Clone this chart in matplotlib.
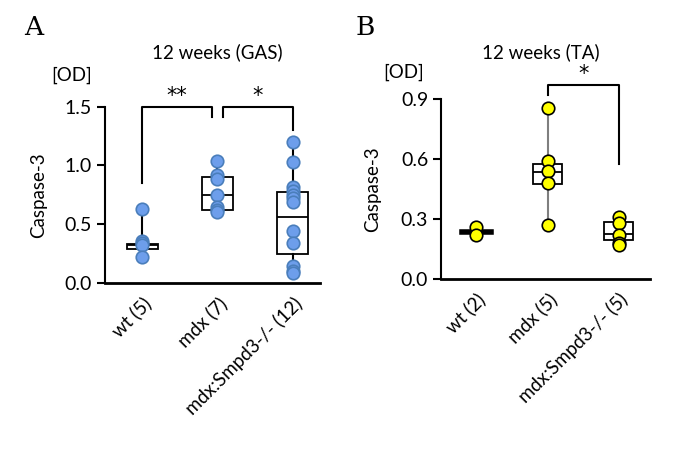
import matplotlib.pyplot as plt

plt.rcParams["font.family"] = ["Lato", "DejaVu Sans"]

# panel A: 12 weeks (GAS)
cats_a = ["wt (5)", "mdx (7)", "mdx:Smpd3-/- (12)"]
pts_a = [
    [0.63, 0.36, 0.34, 0.32, 0.22],
    [1.04, 0.92, 0.88, 0.75, 0.65, 0.62, 0.60],
    [1.20, 1.03, 0.82, 0.785, 0.75, 0.72, 0.69, 0.445, 0.34, 0.14, 0.10, 0.08],
]
q1_a = [0.29, 0.62, 0.245]
med_a = [0.32, 0.75, 0.56]
q3_a = [0.335, 0.90, 0.77]
lo_a = [0.22, 0.60, 0.08]
hi_a = [0.63, 1.04, 1.20]

# panel B: 12 weeks (TA)
cats_b = ["wt (2)", "mdx (5)", "mdx:Smpd3-/- (5)"]
pts_b = [
    [0.26, 0.22],
    [0.857, 0.59, 0.54, 0.478, 0.27],
    [0.31, 0.28, 0.22, 0.18, 0.17],
]
q1_b = [0.23, 0.473, 0.195]
med_b = [0.235, 0.537, 0.225]
q3_b = [0.24, 0.576, 0.283]
lo_b = [0.22, 0.27, 0.17]
hi_b = [0.26, 0.857, 0.31]

fig = plt.figure(figsize=(6.78, 4.54), dpi=100)
axA = fig.add_axes([0.155, 0.377, 0.317, 0.388])
axB = fig.add_axes([0.651, 0.3855, 0.307, 0.3965])


def draw_panel(ax, cats, pts, q1, med, q3, lo, hi, face, edge, whisk_col):
    stats = []
    for i in range(len(cats)):
        stats.append(dict(q1=q1[i], med=med[i], q3=q3[i], whislo=lo[i], whishi=hi[i]))
    ax.bxp(stats, positions=range(len(cats)), widths=0.41, showfliers=False,
           showcaps=False, patch_artist=True,
           boxprops=dict(facecolor="white", edgecolor="black", linewidth=1.3),
           medianprops=dict(color="black", linewidth=1.3),
           whiskerprops=dict(color=whisk_col, linewidth=1.5), zorder=2)
    for i, vals in enumerate(pts):
        ax.plot([i] * len(vals), vals, "o", ms=9, mfc=face, mec=edge, mew=1.2,
                zorder=3, clip_on=False)
    for s in ["top", "right"]:
        ax.spines[s].set_visible(False)
    ax.spines["left"].set_linewidth(1.5)
    ax.spines["bottom"].set_linewidth(2)
    ax.set_xticks(range(len(cats)))
    ax.set_xticklabels(cats, rotation=45, ha="right", rotation_mode="anchor", fontsize=13.5)
    ax.tick_params(axis="x", length=0, pad=8)
    ax.tick_params(axis="y", labelsize=14, width=1.5, length=6, direction="out")
    ax.set_ylabel("Caspase-3", fontsize=13.5)


draw_panel(axA, cats_a, pts_a, q1_a, med_a, q3_a, lo_a, hi_a,
           "#6d9eeb", "#4a7ebb", "black")
axA.set_ylim(0, 1.5)
axA.set_xlim(-0.49, 2.36)
axA.set_yticks([0, 0.5, 1.0, 1.5])
axA.set_yticklabels(["0.0", "0.5", "1.0", "1.5"])
axA.yaxis.set_label_coords(-0.27, 0.5)

draw_panel(axB, cats_b, pts_b, q1_b, med_b, q3_b, lo_b, hi_b,
           "#ffff00", "black", "#7f7f7f")
# wt group in TA drawn as a thick bar
axB.plot([-0.2, 0.2], [med_b[0], med_b[0]], color="black", lw=4, zorder=2)
axB.set_ylim(0, 0.9)
axB.set_xlim(-0.49, 2.43)
axB.set_yticks([0, 0.3, 0.6, 0.9])
axB.set_yticklabels(["0.0", "0.3", "0.6", "0.9"])
axB.yaxis.set_label_coords(-0.29, 0.5)


def bracket(ax, x1, x2, y1, y2, top, label):
    ax.plot([x1, x1, x2, x2], [y1, top, top, y2], color="black", lw=1.5, clip_on=False)
    ax.text((x1 + x2) / 2, top + 0.005 * (ax.get_ylim()[1]), label, ha="center",
            va="bottom", fontsize=15, family="DejaVu Sans")


bracket(axA, 0, 0.93, 0.85, 1.41, 1.5, "**")
bracket(axA, 1.07, 2.0, 1.41, 1.30, 1.5, "*")
bracket(axB, 1, 2, 0.92, 0.576, 0.97, "*")

fig.text(0.32, 0.885, "12 weeks (GAS)", ha="center", va="center", fontsize=13.5)
fig.text(0.797, 0.885, "12 weeks (TA)", ha="center", va="center", fontsize=13.5)
fig.text(0.105, 0.835, "[OD]", ha="center", va="center", fontsize=13.5)
fig.text(0.595, 0.84, "[OD]", ha="center", va="center", fontsize=13.5)
fig.text(0.05, 0.94, "A", ha="center", va="center", fontsize=19, family="DejaVu Serif")
fig.text(0.538, 0.94, "B", ha="center", va="center", fontsize=19, family="DejaVu Serif")

fig.savefig("out.png", dpi=100)
